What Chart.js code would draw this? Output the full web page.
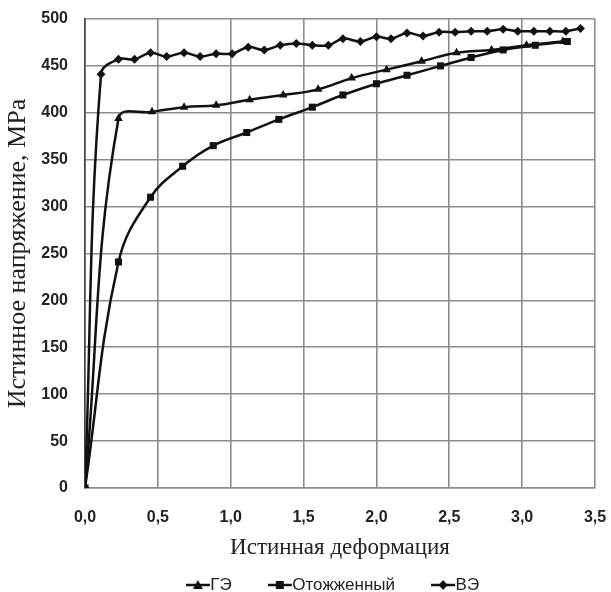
<!DOCTYPE html>
<html>
<head>
<meta charset="utf-8">
<script src="https://cdn.jsdelivr.net/npm/chart.js@4"></script>
<style>
  html, body { margin: 0; padding: 0; background: #fff; }
  #wrap { width: 611px; height: 592px; }
</style>
</head>
<body>
<div id="wrap"><canvas id="myChart" width="611" height="592"></canvas></div>
<script>
// Истинная деформация / Истинное напряжение, MPa
const seriesNames = ['ГЭ', 'Отожженный', 'ВЭ'];

// ГЭ (треугольники)
const strainGE = [0, 0.23, 0.46, 0.68, 0.90, 1.13, 1.36, 1.60, 1.83, 2.07, 2.31, 2.55, 2.79, 3.03, 3.28];
const stressGE = [0, 394, 401, 406, 408, 414, 419, 425, 437, 446, 455, 464, 467, 472, 476];

// Отожженный (квадраты)
const strainAnn = [0, 0.23, 0.45, 0.67, 0.88, 1.11, 1.33, 1.56, 1.77, 2.00, 2.21, 2.44, 2.65, 2.87, 3.09, 3.31];
const stressAnn = [0, 241, 310, 343, 365, 379, 393, 406, 419, 431, 440, 450, 459, 467, 472, 476];

// ВЭ (ромбы)
const strainVE = [0, 0.11, 0.23, 0.34, 0.45, 0.56, 0.68, 0.79, 0.90, 1.01, 1.12, 1.23, 1.34, 1.45,
                  1.56, 1.67, 1.77, 1.89, 2.00, 2.10, 2.21, 2.32, 2.43, 2.54, 2.65, 2.76, 2.87, 2.97,
                  3.08, 3.19, 3.30, 3.40];
const stressVE = [0, 441, 457, 457, 464, 460, 464, 460, 463, 463, 470, 467, 472, 474,
                  472, 472, 479, 476, 481, 479, 485, 482, 486, 486, 487, 487, 489, 487,
                  487, 487, 487, 490];

const xTicks = [0, 0.5, 1.0, 1.5, 2.0, 2.5, 3.0, 3.5];
const yTicks = [0, 50, 100, 150, 200, 250, 300, 350, 400, 450, 500];

function toPoints(xs, ys) {
    return xs.map((x, i) => ({ x: x, y: ys[i] }));
}

// картинка для легенды: линия 24px с маркером, вплотную к тексту
function legendIcon(style) {
    const c = document.createElement('canvas');
    c.width = 31; c.height = 12;
    const g = c.getContext('2d');
    g.strokeStyle = '#111';
    g.lineWidth = 2.5;
    g.beginPath(); g.moveTo(0, 6); g.lineTo(24, 6); g.stroke();
    g.fillStyle = '#111';
    g.beginPath();
    if (style === 'rect') {
        g.rect(8, 2, 8, 8);
    } else if (style === 'triangle') {
        g.moveTo(12, 1); g.lineTo(17, 10); g.lineTo(7, 10); g.closePath();
    } else {
        g.moveTo(12, 1); g.lineTo(16.5, 6); g.lineTo(12, 11); g.lineTo(7.5, 6); g.closePath();
    }
    g.fill();
    return c;
}

const pointStyles = ['triangle', 'rect', 'rectRot'];
const pointRadii = [5, 5, 4.5];
const dataSets = [toPoints(strainGE, stressGE), toPoints(strainAnn, stressAnn), toPoints(strainVE, stressVE)];

const ctx = document.getElementById('myChart').getContext('2d');
new Chart(ctx, {
    type: 'scatter',
    data: {
        datasets: seriesNames.map((name, i) => ({
            label: name,
            data: dataSets[i],
            showLine: true,
            borderColor: '#111',
            backgroundColor: '#111',
            borderWidth: 2.5,
            tension: 0.4,
            pointStyle: pointStyles[i],
            pointRadius: pointRadii[i],
            pointBorderWidth: 0,
            pointBackgroundColor: '#111'
        }))
    },
    options: {
        responsive: false,
        animation: false,
        layout: { autoPadding: false, padding: { left: 0, right: 16, top: 19, bottom: -11.5 } },
        scales: {
            x: {
                type: 'linear',
                min: 0,
                max: 3.5,
                afterBuildTicks: (s) => { s.ticks = xTicks.map(v => ({ value: v })); },
                afterFit: (s) => {
                    s.height = 37.5;
                    s.paddingLeft = 0;
                    s.paddingRight = 0;
                },
                ticks: {
                    color: '#222',
                    padding: 20,
                    font: { family: 'Liberation Sans', size: 16, weight: 'bold' },
                    callback: (v) => v.toFixed(1).replace('.', ',')
                },
                grid: { color: '#8c8c8c', lineWidth: 1.6, drawTicks: false },
                border: { color: '#8c8c8c', width: 1.6 },
                title: {
                    display: true,
                    text: 'Истинная деформация',
                    color: '#222',
                    font: { family: 'Liberation Serif', size: 23 },
                    padding: { top: 0, bottom: -36 }
                }
            },
            y: {
                min: 0,
                max: 500,
                afterBuildTicks: (s) => { s.ticks = yTicks.map(v => ({ value: v })); },
                afterFit: (s) => {
                    s.width = 85;
                    s.paddingTop = 0;
                    s.paddingBottom = 0;
                },
                ticks: {
                    color: '#222',
                    padding: 17,
                    font: { family: 'Liberation Sans', size: 16, weight: 'bold' }
                },
                grid: { color: '#8c8c8c', lineWidth: 1.6, drawTicks: false },
                border: { color: '#444', width: 1.6 },
                title: {
                    display: true,
                    text: 'Истинное напряжение, MPa',
                    color: '#222',
                    font: { family: 'Liberation Serif', size: 26 },
                    padding: { top: 3, bottom: 0 }
                }
            }
        },
        plugins: {
            legend: {
                position: 'bottom',
                fullSize: false,
                labels: {
                    usePointStyle: true,
                    pointStyleWidth: 1,
                    boxHeight: 12,
                    padding: 51,
                    color: '#222',
                    font: { family: 'Liberation Sans', size: 17 },
                    generateLabels: (chart) => {
                        const items = Chart.defaults.plugins.legend.labels.generateLabels(chart);
                        items.forEach((it, i) => { it.pointStyle = legendIcon(pointStyles[i]); });
                        return items;
                    }
                }
            },
            tooltip: { enabled: false }
        }
    }
});
</script>
</body>
</html>
